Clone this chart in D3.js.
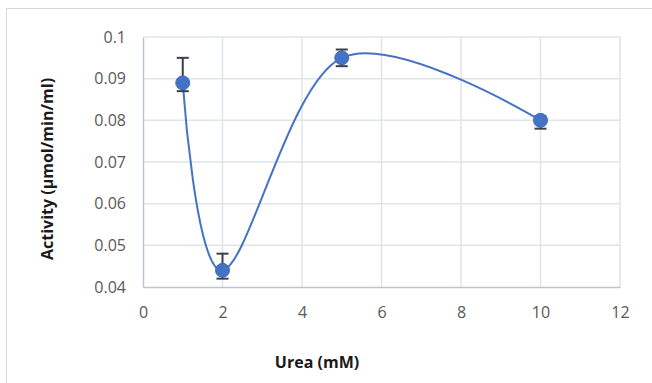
<!DOCTYPE html>
<html>
<head>
<meta charset="utf-8">
<script src="https://cdn.jsdelivr.net/npm/d3@7"></script>
<style>
  html, body { margin: 0; padding: 0; background: #fff; }
  svg { display: block; font-family: "Open Sans", Lato, "Liberation Sans", sans-serif; }
</style>
</head>
<body>
<svg id="chart" width="652" height="383"></svg>
<script>
// Urea concentration (mM) and measured activity
const urea = [1, 2, 5, 10];
const activity = [0.089, 0.044, 0.095, 0.080];
const errPlus = [0.006, 0.004, 0.002, 0.001];
const errMinus = [0.002, 0.002, 0.002, 0.002];
const xTicks = [0, 2, 4, 6, 8, 10, 12];
const yTicks = [0.04, 0.05, 0.06, 0.07, 0.08, 0.09, 0.1];

const svg = d3.select("#chart");
const W = 652, H = 383;
const m = { left: 143, right: 620, top: 37, bottom: 287 };

// chart area frame
svg.append("rect")
  .attr("x", 6.5).attr("y", 8.5)
  .attr("width", W).attr("height", H)
  .attr("fill", "#fff").attr("stroke", "#d9d9d9").attr("stroke-width", 1);

const x = d3.scaleLinear().domain([0, 12]).range([m.left, m.right]);
const y = d3.scaleLinear().domain([0.04, 0.1]).range([m.bottom, m.top]);

// gridlines
const grid = svg.append("g");
grid.selectAll("line.v").data(xTicks.slice(1)).join("line")
  .attr("x1", d => x(d)).attr("x2", d => x(d))
  .attr("y1", y(0.1)).attr("y2", y(0.04))
  .attr("stroke", "#dfe3ea").attr("stroke-width", 1.5);
grid.selectAll("line.h").data(yTicks.slice(1)).join("line")
  .attr("x1", x(0)).attr("x2", x(12))
  .attr("y1", d => y(d)).attr("y2", d => y(d))
  .attr("stroke", "#dfe3ea").attr("stroke-width", 1.5);

// axes
const xAxis = svg.append("g")
  .attr("transform", `translate(0,${m.bottom})`)
  .call(d3.axisBottom(x).tickValues(xTicks).tickSize(0).tickPadding(20).tickFormat(d3.format("d")));
const yAxis = svg.append("g")
  .attr("transform", `translate(${m.left},0)`)
  .call(d3.axisLeft(y).tickValues(yTicks).tickSize(0).tickPadding(17).tickFormat(d => d === 0.1 ? "0.1" : d3.format(".2f")(d)));
[xAxis, yAxis].forEach(g => {
  g.select(".domain").attr("stroke", "#bcc5d3").attr("stroke-width", 1.5);
  g.selectAll("text").attr("fill", "#595959").attr("font-size", 16)
    .attr("font-family", "'Open Sans', Lato, sans-serif");
});

const pts = urea.map((u, i) => ({ u, a: activity[i], hi: activity[i] + errPlus[i], lo: activity[i] - errMinus[i] }));

// smoothed series line
svg.append("path")
  .datum(pts)
  .attr("d", d3.line().x(d => x(d.u)).y(d => y(d.a)).curve(d3.curveCardinal.tension(0)))
  .attr("fill", "none").attr("stroke", "#4472c4").attr("stroke-width", 2);

// error bars
const eb = svg.append("g").attr("stroke", "#3a3f4a").attr("stroke-width", 2);
eb.selectAll("line.stem").data(pts).join("line")
  .attr("x1", d => x(d.u)).attr("x2", d => x(d.u))
  .attr("y1", d => y(d.hi)).attr("y2", d => y(d.lo));
eb.selectAll("line.top").data(pts).join("line")
  .attr("x1", d => x(d.u) - 6).attr("x2", d => x(d.u) + 6)
  .attr("y1", d => y(d.hi)).attr("y2", d => y(d.hi));
eb.selectAll("line.bot").data(pts).join("line")
  .attr("x1", d => x(d.u) - 6).attr("x2", d => x(d.u) + 6)
  .attr("y1", d => y(d.lo)).attr("y2", d => y(d.lo));

// markers
svg.append("g").selectAll("circle").data(pts).join("circle")
  .attr("cx", d => x(d.u)).attr("cy", d => y(d.a)).attr("r", 7)
  .attr("fill", "#4472c4").attr("stroke", "#3f6cbd").attr("stroke-width", 1);

// axis titles
svg.append("text")
  .attr("x", 317).attr("y", 368)
  .attr("text-anchor", "middle").attr("font-weight", "bold").attr("font-size", 16)
  .attr("fill", "#1a1a1a").text("Urea (mM)");
svg.append("text")
  .attr("transform", `translate(53,169) rotate(-90)`)
  .attr("text-anchor", "middle").attr("font-weight", "bold").attr("font-size", 16)
  .attr("fill", "#1a1a1a").text("Activity (µmol/min/ml)");
</script>
</body>
</html>
